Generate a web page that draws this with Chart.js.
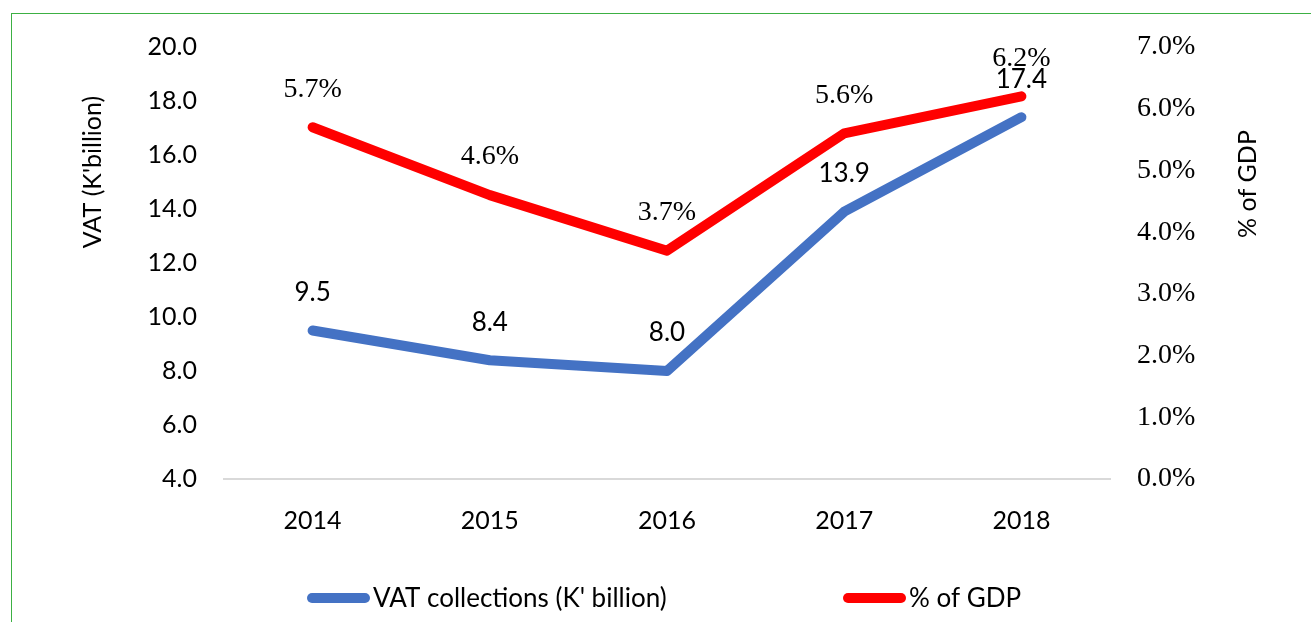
<!DOCTYPE html>
<html lang="en">
<head>
<meta charset="UTF-8">
<title>VAT collections</title>
<script src="https://cdn.jsdelivr.net/npm/chart.js"></script>
<style>
  body { margin: 0; background: #fff; overflow: hidden; }
  .wrap { position: relative; width: 1311px; height: 622px; }
  .frame {
    position: absolute; left: 11px; top: 13px; width: 1320px; height: 640px;
    border-left: 1px solid #3cb043; border-top: 1px solid #3cb043;
    pointer-events: none;
  }
</style>
</head>
<body>
<div class="wrap">
  <canvas id="vatChart" width="1311" height="622"></canvas>
  <div class="frame"></div>
</div>
<script>
// data
const years = ['2014', '2015', '2016', '2017', '2018'];
const vatBillions = [9.5, 8.4, 8.0, 13.9, 17.4];
const vatPctGdp = [5.7, 4.6, 3.7, 5.6, 6.2];
const seriesNames = ["VAT collections (K' billion)", '% of GDP'];
const axisTitles = ["VAT (K'billion)", '% of GDP'];
const leftRange = [4, 20, 2];
const rightRange = [0, 7, 1];

const SANS = 'Lato, "Open Sans", sans-serif';
const SERIF = '"Liberation Serif", "Times New Roman", serif';
const BLUE = '#4472C4';
const RED = '#FF0000';

const labelStyle = [
  { font: '26px ' + SANS, fmt: v => v.toFixed(1) },
  { font: '28px ' + SERIF, fmt: v => v.toFixed(1) + '%' }
];

// value labels, axis titles and the legend
const extras = {
  id: 'extras',
  afterDatasetsDraw(chart) {
    const ctx = chart.ctx;
    ctx.save();
    ctx.fillStyle = '#000';
    ctx.textAlign = 'center';
    ctx.textBaseline = 'middle';
    chart.data.datasets.forEach((ds, i) => {
      ctx.font = labelStyle[i].font;
      chart.getDatasetMeta(i).data.forEach((pt, j) => {
        ctx.fillText(labelStyle[i].fmt(ds.data[j]), pt.x, pt.y - 38);
      });
    });

    ctx.font = '25px ' + SANS;
    [[93, 172], [1248, 184]].forEach(([x, y], i) => {
      ctx.save();
      ctx.translate(x, y);
      ctx.rotate(-Math.PI / 2);
      ctx.fillText(axisTitles[i], 0, 0);
      ctx.restore();
    });

    ctx.font = '26px ' + SANS;
    ctx.textAlign = 'left';
    ctx.lineWidth = 10;
    ctx.lineCap = 'round';
    [307, 843].forEach((x, i) => {
      const ds = chart.data.datasets[i];
      ctx.strokeStyle = ds.borderColor;
      ctx.beginPath();
      ctx.moveTo(x + 5, 598);
      ctx.lineTo(x + 58, 598);
      ctx.stroke();
      ctx.fillText(ds.label, x + 66, 599);
    });
    ctx.restore();
  }
};

new Chart(document.getElementById('vatChart'), {
  type: 'line',
  data: {
    labels: years,
    datasets: [
      {
        label: seriesNames[0], data: vatBillions, yAxisID: 'y',
        borderColor: BLUE, backgroundColor: BLUE, borderWidth: 10,
        borderCapStyle: 'round', borderJoinStyle: 'round',
        pointRadius: 0, tension: 0
      },
      {
        label: seriesNames[1], data: vatPctGdp, yAxisID: 'y1',
        borderColor: RED, backgroundColor: RED, borderWidth: 10,
        borderCapStyle: 'round', borderJoinStyle: 'round',
        pointRadius: 0, tension: 0
      }
    ]
  },
  options: {
    responsive: false,
    animation: false,
    layout: { padding: { top: 47, bottom: 83, left: 0, right: 0 } },
    plugins: {
      legend: { display: false },
      tooltip: { enabled: false }
    },
    scales: {
      x: {
        offset: true,
        grid: { display: false },
        border: { color: '#d9d9d9', width: 2 },
        ticks: { color: '#000', font: { family: SANS, size: 25 }, padding: 19 },
        afterFit: s => { s.height = 60; }
      },
      y: {
        position: 'left',
        min: leftRange[0], max: leftRange[1],
        grid: { display: false, drawTicks: false },
        border: { display: false },
        ticks: {
          stepSize: leftRange[2], padding: 27, color: '#000',
          font: { family: SANS, size: 25 },
          callback: v => v.toFixed(1)
        },
        afterFit: s => { s.width = 224; }
      },
      y1: {
        position: 'right',
        min: rightRange[0], max: rightRange[1],
        grid: { display: false, drawTicks: false },
        border: { display: false },
        ticks: {
          stepSize: rightRange[2], padding: 27, color: '#000',
          font: { family: SERIF, size: 28 },
          callback: v => v.toFixed(1) + '%'
        },
        afterFit: s => { s.width = 201; }
      }
    }
  },
  plugins: [extras]
});
</script>
</body>
</html>
